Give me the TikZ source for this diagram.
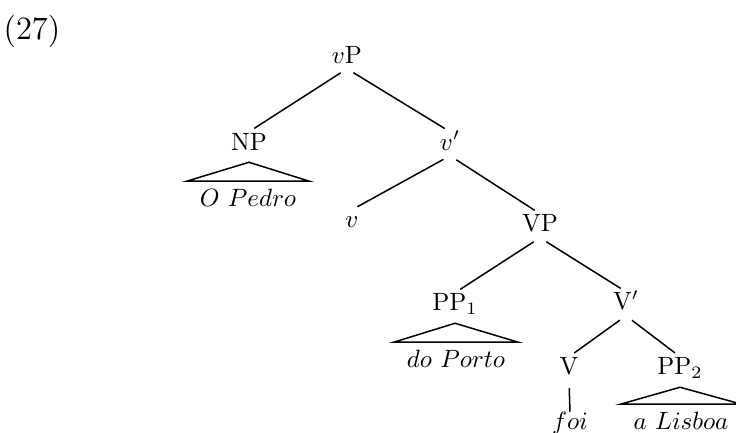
\documentclass[tikz,border=0pt]{standalone}
\begin{document}
\begin{tikzpicture}[x=0.4pt,y=0.4pt,line width=0.6pt]
\tikzstyle{every node}+=[inner sep=0pt]
\tikzstyle{cat}=[anchor=base,text height=7pt,text depth=2pt]
\tikzstyle{leaf}=[anchor=base,text height=10pt,text depth=2pt,inner xsep=5pt]
\tikzstyle{branch}=[black,shorten <=3pt,shorten >=2.5pt]
\useasboundingbox (0,0) rectangle (736,-433);
\node (ex) at (32,-31) {\fontsize{13}{15}\selectfont (27)};
\node [cat] (vP) at (347,-63) {$v$P};
\node [cat] (NP) at (249,-150) {NP};
\node [cat] (vbar) at (450,-150) {$v'$};
\node [cat] (v) at (352,-228) {$v$};
\node [cat] (VP) at (540,-232) {VP};
\node [cat] (PPa) at (455,-311) {PP$_1$};
\node [cat] (Vbar) at (626,-310) {V$'$};
\node [cat] (V) at (569,-375) {V};
\node [cat] (PPb) at (680,-375) {PP$_2$};
\node [leaf] (pedro) at (248,-207) {$O\ Pedro$};
\node [leaf] (porto) at (456,-368) {$do\ Porto$};
\node [cat] (foi) at (570,-430) {$foi$};
\node [leaf] (lisboa) at (681,-430) {$a\ Lisboa$};
\draw [branch] (vP.south) -- (NP.north);
\draw [branch] (vP.south) -- (vbar.north);
\draw [branch] (vbar.south) -- (v.north);
\draw [branch] (vbar.south) -- (VP.north);
\draw [branch] (VP.south) -- (PPa.north);
\draw [branch] (VP.south) -- (Vbar.north);
\draw [branch] (Vbar.south) -- (V.north);
\draw [branch] (Vbar.south) -- (PPb.north);
\draw [branch,shorten >=0pt] (V.south) -- (foi.north);
\draw ([yshift=-2.6pt]NP.south) -- (pedro.north west) -- (pedro.north east) -- cycle;
\draw ([yshift=-2.6pt]PPa.south) -- (porto.north west) -- (porto.north east) -- cycle;
\draw ([yshift=-2.6pt]PPb.south) -- (lisboa.north west) -- (lisboa.north east) -- cycle;
\end{tikzpicture}
\end{document}
